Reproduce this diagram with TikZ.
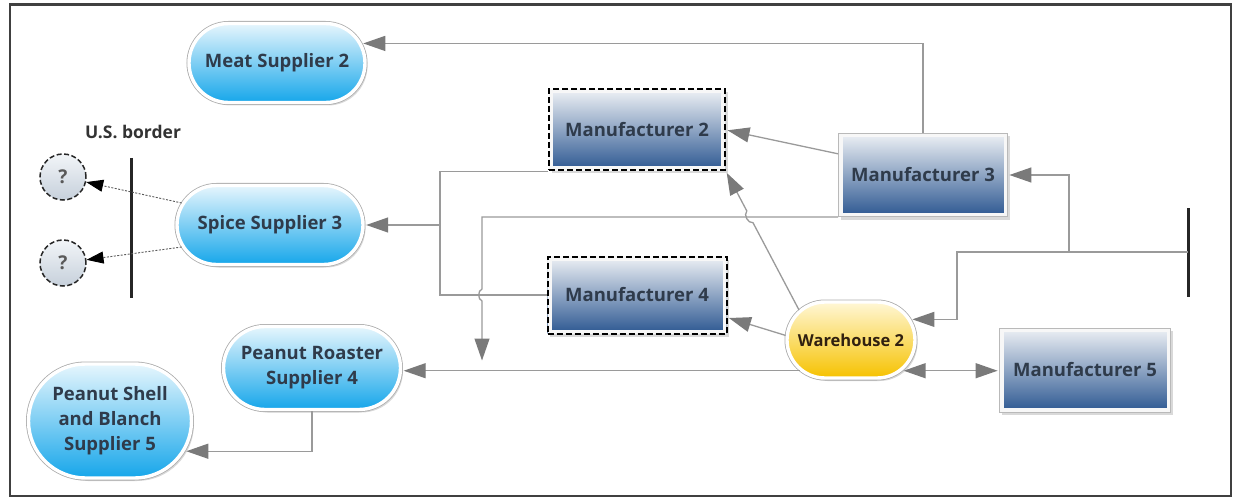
\documentclass[tikz,border=0pt]{standalone}
\usepackage{fontspec}
\setmainfont{Open Sans}
\usetikzlibrary{arrows.meta,shapes.misc,shadows,calc}

\definecolor{supTop}{HTML}{E6F6FD}
\definecolor{supBot}{HTML}{16A6EA}
\definecolor{manTop}{HTML}{EEF1F5}
\definecolor{manBot}{HTML}{2C5791}
\definecolor{whTop}{HTML}{FFF7D6}
\definecolor{whBot}{HTML}{F6C200}
\definecolor{qTop}{HTML}{F2F5F8}
\definecolor{qBot}{HTML}{C6D0DB}
\definecolor{txt}{HTML}{2F3B4B}
\definecolor{wire}{HTML}{9A9A9A}
\definecolor{tipc}{HTML}{7A7A7A}

\tikzset{
  softshadow/.style={drop shadow={shadow xshift=2.5pt, shadow yshift=-3pt, opacity=0.3}},
  % rounded supplier / warehouse shapes: thin grey edge, white rim, vertical gradient
  rimmed/.style={softshadow, preaction={draw=gray!65, line width=5pt},
    draw=white, line width=3.4pt},
  supplier/.style={rounded rectangle, rimmed, top color=supTop, bottom color=supBot,
    font=\bfseries\fontsize{18.5}{25}\selectfont, text=txt, align=center, inner sep=0pt},
  depot/.style={rounded rectangle, rimmed, top color=whTop, bottom color=whBot,
    font=\bfseries\fontsize{16.5}{20}\selectfont, text=black!75!brown, inner sep=0pt},
  % manufacturer boxes
  maker/.style={rectangle, softshadow, top color=manTop, bottom color=manBot,
    draw=gray!55, line width=0.8pt,
    path picture={\draw[solid, white!94!gray, line width=8pt]
      (path picture bounding box.south west) rectangle (path picture bounding box.north east);},
    font=\bfseries\fontsize{18.5}{22}\selectfont, text=txt, inner sep=0pt},
  makerdash/.style={maker, draw=black, line width=2pt, dash pattern=on 6pt off 3pt},
  unknown/.style={circle, minimum size=46pt, inner sep=0pt, top color=qTop, bottom color=qBot,
    draw=black!85, line width=1.5pt, dash pattern=on 5pt off 2.5pt,
    font=\bfseries\fontsize{19}{20}\selectfont, text=black!65},
  wireline/.style={draw=wire, line width=1.3pt},
  arr/.style={wireline, -{Triangle[length=22pt,width=15pt,color=tipc]}, shorten >=1.5pt},
  dblarr/.style={wireline, {Triangle[length=22pt,width=15pt,color=tipc]}-{Triangle[length=22pt,width=15pt,color=tipc]}, shorten >=1.5pt, shorten <=1.5pt},
  crossarr/.style={draw=black!65, line width=0.9pt, dash pattern=on 2pt off 1.5pt,
    -{Triangle[length=17pt,width=12pt,color=black]}},
  borderline/.style={draw=black!85, line width=3pt}
}

\begin{document}
\begin{tikzpicture}[x=1pt, y=-1pt]
  \useasboundingbox (0,0) rectangle (1235,500);
  \draw[black!75, line width=2.2pt] (10,4.5) rectangle (1231,496);

  % suppliers
  \node[supplier, minimum width=176pt, minimum height=79pt] (ms2) at (277,63) {Meat Supplier 2};
  \node[supplier, minimum width=186pt, minimum height=79pt] (ss3) at (270,225) {Spice Supplier 3};
  \node[supplier, minimum width=177pt, minimum height=83pt] (pr4) at (312,368) {Peanut Roaster\\Supplier 4};
  \node[supplier, minimum width=163pt, minimum height=114pt] (ps5) at (110,421) {Peanut Shell\\and Blanch\\Supplier 5};

  % manufacturers and warehouse
  \node[makerdash, minimum width=176pt, minimum height=81pt] (m2) at (637,130) {Manufacturer 2};
  \node[maker, minimum width=169pt, minimum height=83pt] (m3) at (923,175) {Manufacturer 3};
  \node[makerdash, minimum width=179pt, minimum height=77pt] (m4) at (637,295) {Manufacturer 4};
  \node[maker, minimum width=171pt, minimum height=84pt] (m5) at (1085,370) {Manufacturer 5};
  \node[depot, minimum width=128pt, minimum height=76pt] (wh2) at (851,340) {Warehouse 2};

  % border and unknown sources abroad
  \node[font=\bfseries\fontsize{17.5}{20}\selectfont, text=black!80] (usb) at (133,132) {U.S. border};
  \coordinate (bl1) at (131,158);
  \coordinate (bl2) at (131,298);
  \draw[borderline] (bl1) -- (bl2);
  \node[unknown] (q1) at (63,177) {?};
  \node[unknown] (q2) at (63,263) {?};
  \draw[crossarr] (ss3.166) -- (q1);
  \draw[crossarr] (ss3.194) -- (q2);

  % right-hand feed line
  \coordinate (rt) at (1188,208);
  \coordinate (rb) at (1188,297);
  \coordinate (rf) at (1188,252);
  \coordinate (jr) at (1069,252);
  \draw[borderline] (rt) -- (rb);
  \draw[arr] (rf) -| ($(wh2.19)+(46,0)$) -- (wh2.19);
  \draw[arr] (jr) |- (m3.east);

  % Manufacturer 3 links
  \draw[arr] (m3.north) |- (ms2.13);
  \draw[arr] (m3.166) -- (m2.east);
  \coordinate (j2) at (482,362);
  \draw[arr] (m3.south west) -- (m3.south west -| j2)
    -- ($(j2 |- m4.west)+(0,-6)$) to[bend right=70] ($(j2 |- m4.west)+(0,6)$) -- (j2);

  % Manufacturers 2 and 4 to Spice Supplier 3
  \coordinate (j1) at (440,225);
  \draw[wireline] (m2.south west) -| (j1);
  \draw[wireline] (m4.west) -| (j1);
  \draw[arr] (j1) -- (ss3.east);

  % Warehouse 2 links
  \draw[arr] (wh2.150) -- ($(wh2.150)!0.63!(m2.south east)$)
    to[bend left=70] ($(wh2.150)!0.715!(m2.south east)$) -- (m2.south east);
  \draw[arr] (wh2.176) -- (m4.346);
  \draw[arr] (wh2.211) -- (wh2.211 -| pr4.east);
  \draw[dblarr] (wh2.329) -- (wh2.329 -| m5.west);

  % Peanut Roaster to Peanut Shell
  \draw[arr] (pr4.south) |- (ps5.338);
\end{tikzpicture}
\end{document}
